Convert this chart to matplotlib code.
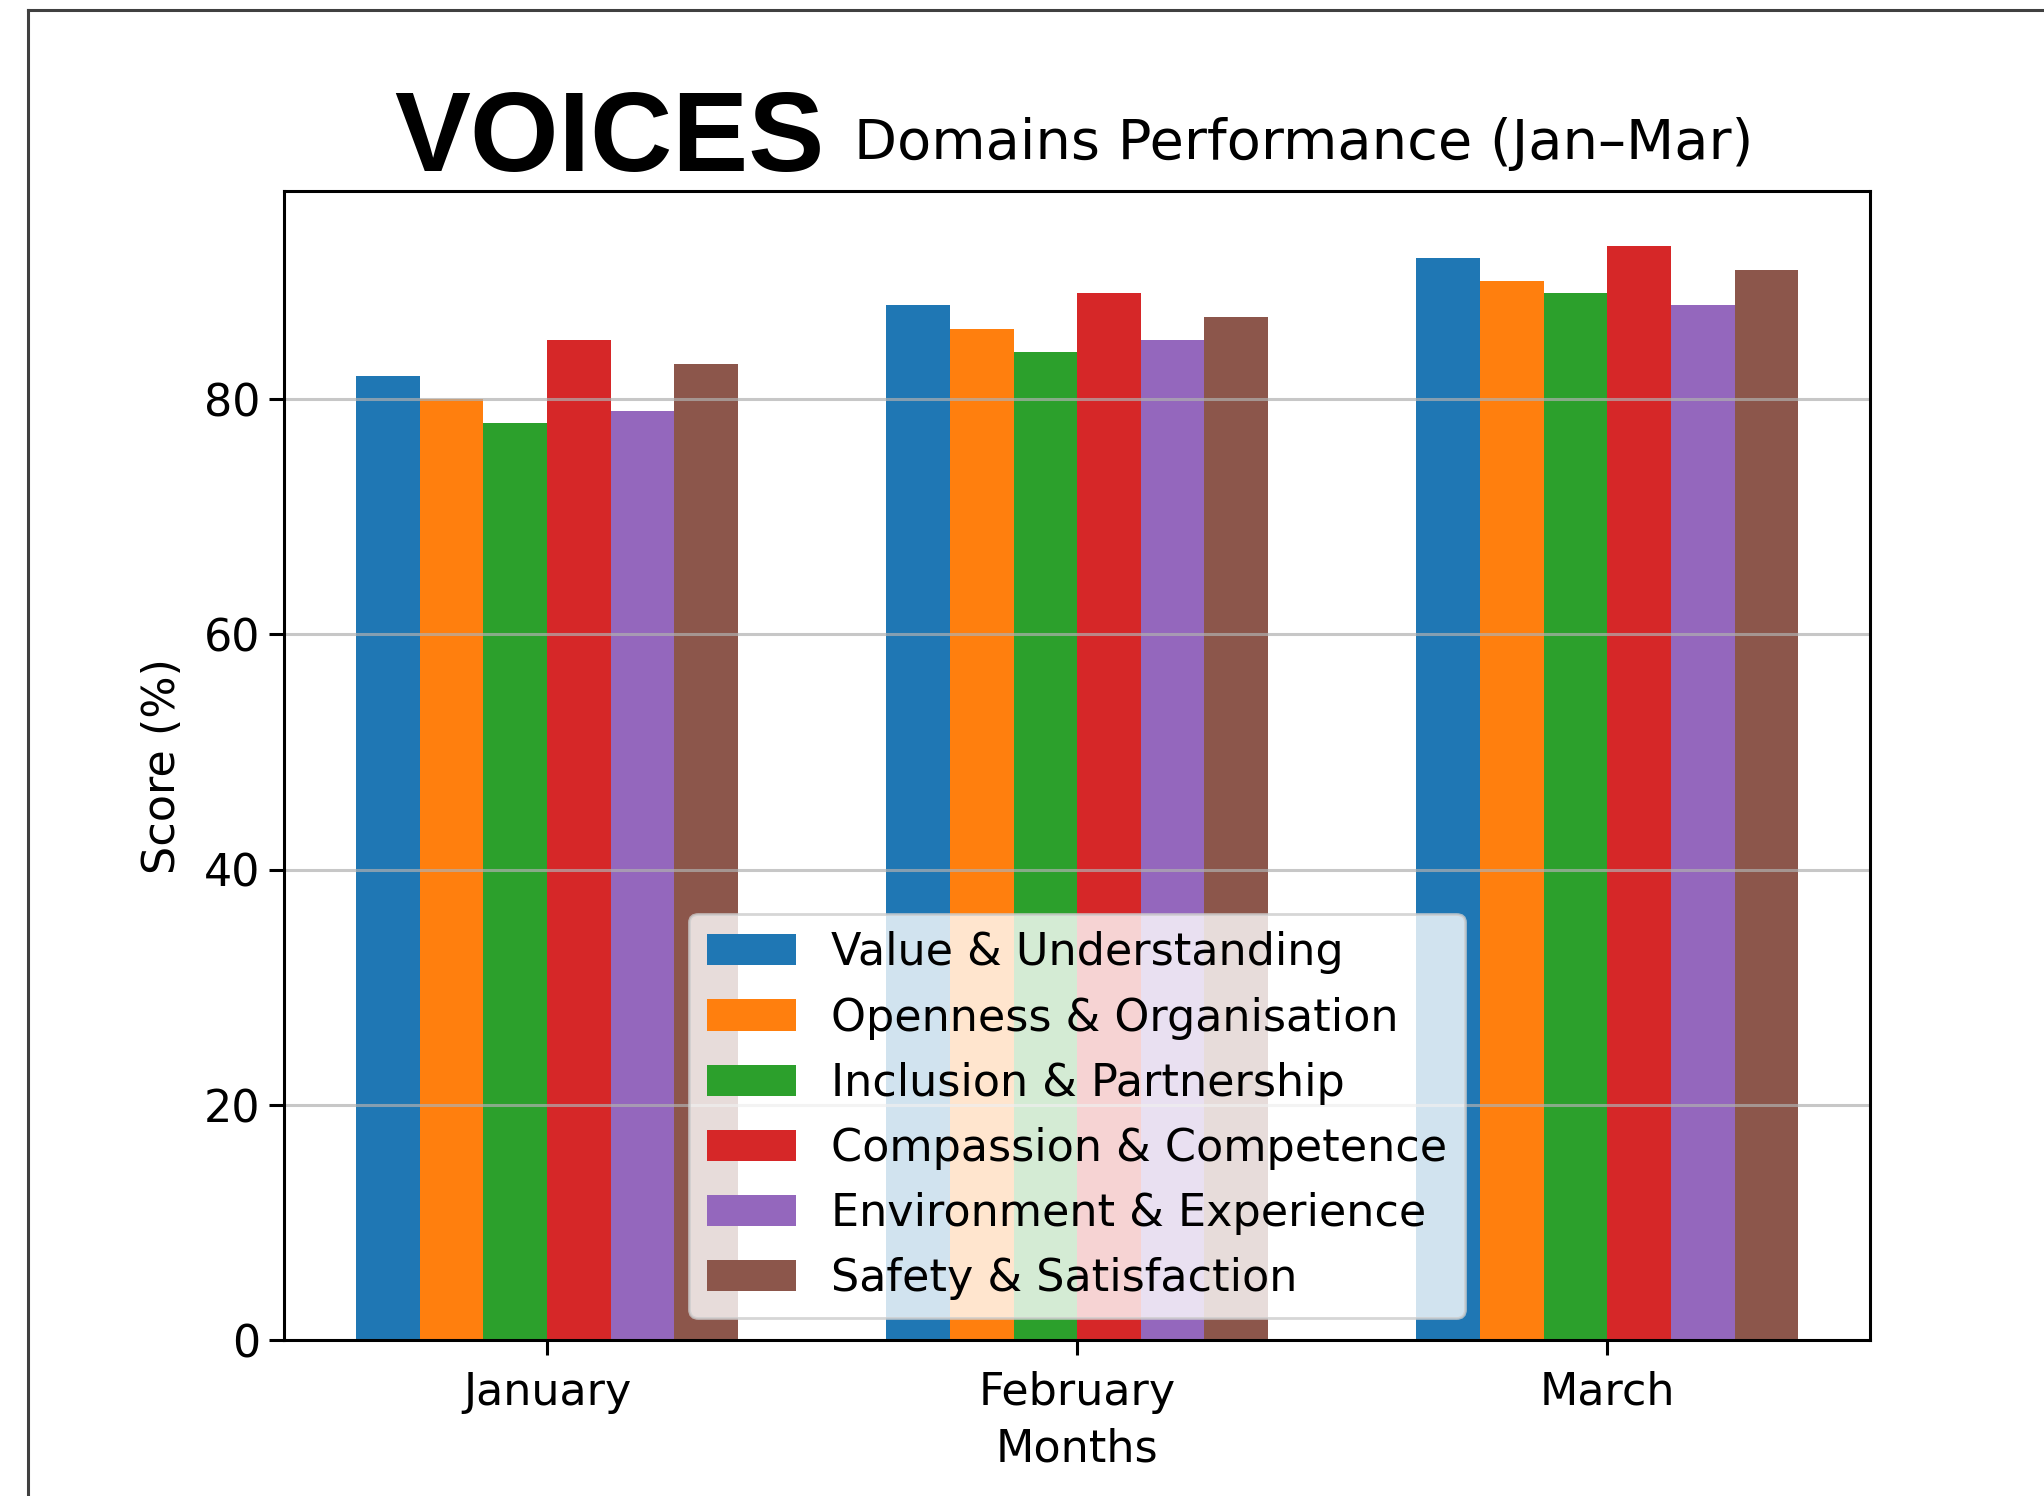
import matplotlib
matplotlib.use("Agg")
import matplotlib.pyplot as plt
from matplotlib.lines import Line2D
import numpy as np

months = ["January", "February", "March"]
domains = [
    "Value & Understanding",
    "Openness & Organisation",
    "Inclusion & Partnership",
    "Compassion & Competence",
    "Environment & Experience",
    "Safety & Satisfaction",
]
value_understanding = [82, 88, 92]
openness_organisation = [80, 86, 90]
inclusion_partnership = [78, 84, 89]
compassion_competence = [85, 89, 93]
environment_experience = [79, 85, 88]
safety_satisfaction = [83, 87, 91]
series = [value_understanding, openness_organisation, inclusion_partnership,
          compassion_competence, environment_experience, safety_satisfaction]
yticks = [0, 20, 40, 60, 80]

plt.rcParams['font.family'] = ['DejaVu Sans']

fig = plt.figure(figsize=(10.22, 7.48), dpi=200)
ax = fig.add_axes([0.139, 0.104, 0.776, 0.768])

x = np.arange(len(months))
width = 0.12
for i, (name, vals) in enumerate(zip(domains, series)):
    ax.bar(x + (i - 2.5) * width, vals, width, label=name)

ax.set_xticks(x)
ax.set_xticklabels(months, fontsize=16)
ax.set_yticks(yticks)
ax.tick_params(axis='y', labelsize=16, length=5.5, width=1.1, pad=3)
ax.tick_params(axis='x', length=5.5, width=1.1, pad=5.5)
for s in ax.spines.values():
    s.set_linewidth(1.1)
ax.set_xlabel("Months", fontsize=16, labelpad=5)
ax.set_ylabel("Score (%)", fontsize=16, labelpad=7)
ax.grid(axis='y', alpha=0.7, linewidth=1.1)
ax.legend(loc='lower center', fontsize=16)

# Title: logo word + subtitle
fig.text(0.4036, 0.886, "VOICES", ha='right', va='baseline',
         fontsize=41, fontweight='bold', family='Liberation Sans')
fig.text(0.418, 0.894, "Domains Performance (Jan\u2013Mar)", ha='left',
         va='baseline', fontsize=20.1)

# screenshot-like border
x0 = 28 / 2044
y0 = 1 - 10 / 1496
fig.add_artist(Line2D([x0, 1], [y0, y0], transform=fig.transFigure,
                      color='#404040', lw=1.1))
fig.add_artist(Line2D([x0, x0], [0, y0], transform=fig.transFigure,
                      color='#404040', lw=1.1))

fig.savefig("out.png", dpi=200)
